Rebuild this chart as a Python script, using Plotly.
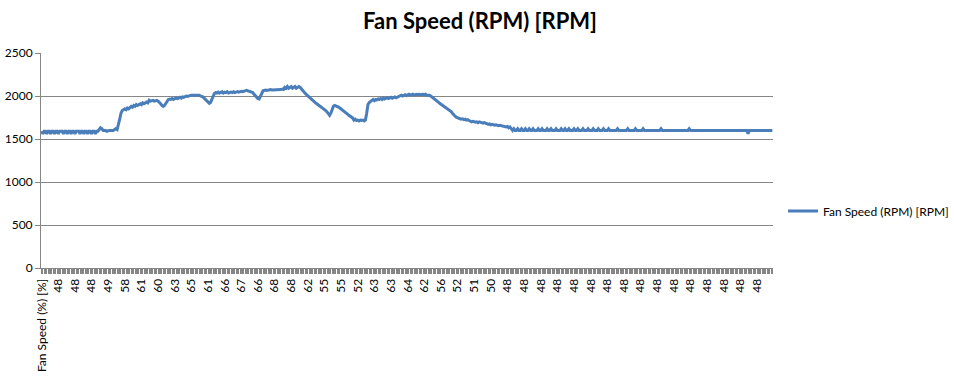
import plotly.graph_objects as go

# Fan speed (RPM) readings, split into segments
rpm_seg_a = [1590,1560,1590,1590,1560,1590,1590,1560,1590,1590,
             1560,1590,1590,1560,1590,1590,1590,1560,1590,1590,
             1560,1590,1590,1560,1590,1590,1560,1590,1590,1590,
             1560,1590,1590,1560,1590,1590,1560,1590,1590,1560,
             1590,1590,1560,1590,1590]
rpm_seg_b = [1610,1630,1620,
             1600,1600,1600,1590,1600,1600,1600,1600,1600,
             1610,1620,1610,
             1660,1730,1800,1830,1840,
             1850,1840,1860,1850,1870]
rpm_seg_c = [1880,1870,1890,1880,1900,1890,1900,1910,1900,1920,1910,1920,1930,1920,
             1950,1940,1950,1950,1940,1950,1950,1940,
             1930,1910,1890,1880,1890,1910,
             1940,1960,1965,1960,1970,1960,
             1970,1975,1970,1980,1985,1975,1990,1985,1990,2000,1995,
             2000,2010,2010,2010,2010,2010,2005,2010,2010,2000,1995,1990,
             1975,1960,1945,1930,1915,1925,
             1960,2000,2030,2040]
rpm_seg_d = [2035,2045,2035,2040,2050,2035,2045,2040,2050,2035,2040,2045,2040,2050,2040,2045,2050,2045,2050,2055,2050,2060,
             2060,2065,2060,2060,2055,
             2050,2040,2020,2000,1985,1970,1965,
             2000,2040,2060,
             2065,2070,2065,2070,2070,2075,2070,2070,2075,2070,2075,2075,2070,2075,2080,2075,
             2100,2090,2110,2090,2100,2110,2090,2100,2110,2090,2100,2110,2100,
             2080,2060]
rpm_seg_e = [2040,2030,2015,2000,1985,1970,1955,1945,1935,1920,1910,1900,1890,1880,1865,1850,1840,1830,1815,1795,1775,
             1800,1840,1880,1890,
             1885,1875,1870,1860,
             1850,1840,1820,1810,1800,1790,1775,1765,1755,1745,
             1720,1730,1715,1720,1710,1720,1715,1720,1710,1720,
             1800,1900,1925,1940,
             1950,1960,1945,1960,1955,1965,1960,1970,1960,1975,1965,1970,1980,1970,1975,1985,1975,1980,1990,1980,1990,
             2000,2005,2010,2000,2010,2015,2005,2010,2020,2010,2015,2020,2010,2015,2020,2015,2020,2015,2020,2020,2015,2020,2010]
rpm_seg_f = [2010,2010,2000,1990,1980,1965,1955,1940,1930,1915,1905,1895,1885,1870,1860,1850,1840,1830,1820,1800,1780,1765,1755,1745,1740,1735,1730,1735,1725,1730,1720,1725,1715,
             1710,1700,1705,1700,1695,1700,1690,1700,1695,1690,1685,1690,1680,
             1675,1670,1675,1665,1670,1665,1660,1665,1660,1655,1660,1655,1650,
             1650,1645,1640,1645,1630,1640,1620]
rpm_seg_g = [1600,1620,1600,1600,1620,1600,1600,1620,1600,1600,
             1620,1600,1600,1620,1600,1600,1620,1600,1600,1600,
             1620,1600,1600,1620,1600,1600,1600,1620,1600,1600,
             1620,1600,1600,1600,1620,1600,1600,1600,1620,1600,
             1600,1620,1600,1600,1620,1600,1600,1600,1620,1600,
             1600,1620,1600,1600,1600,1620,1600,1600,1600,1620,
             1600,1600,1600,1620,1600,1600,1600,1620,1600,1600,
             1600,1620,1600,1600,1600,1620,1600,1600,1600,1600,
             1600,1600,1620,1600,1600,1600,1600,1600,1600,1600,
             1620,1600,1600,1600,1600,1600,1620,1600,1600,1600,
             1600,1600,1620,1600,1600,1600,1600,1600,1600,1600,
             1600,1600,1600,1600,1600,1600,1620,1600,1600,1600,
             1600,1600,1600,1600,1600,1600,1600,1600,1600,1600,
             1600,1600,1600,1600,1600,1600,1600,1600,1620,1600,
             1600,1600,1600,1600,1600,1600,1600,1600,1600,1600,
             1600,1600,1600,1600,1600,1600,1600,1600,1600,1600,
             1600,1600,1600,1600,1600,1600,1600,1600,1600,1600,
             1600,1600,1600,1600,1600,1600,1600,1600,1600,1600,
             1600,1600,1600,1600,1560,1600,1600,1600,1600,1600,
             1600,1600,1600,1600,1600,1600,1600,1600,1600,1600,
             1600,1600,1600,1600]

rpm = rpm_seg_a + rpm_seg_b + rpm_seg_c + rpm_seg_d + rpm_seg_e + rpm_seg_f + rpm_seg_g

# Category labels (fan speed %) shown every 13th category
label_step = 13
tick_labels = ["Fan Speed (%) [%]",
               "48", "48", "48", "49", "58", "61", "60", "63", "65", "61", "66", "67", "66", "68",
               "68", "62", "55", "55", "52", "63", "63", "64", "62", "56", "52", "51", "50", "48",
               "48", "48", "48", "48", "48", "48", "48", "48", "48", "48", "48", "48", "48", "48", "48"]

series_name = "Fan Speed (RPM) [RPM]"
chart_title = "Fan Speed (RPM) [RPM]"
y_ticks = [0, 500, 1000, 1500, 2000, 2500]

x_idx = list(range(len(rpm)))
tick_pos = list(range(0, len(rpm), label_step))[:len(tick_labels)]

FONT = "Lato, 'Open Sans', sans-serif"
GRAY = "#868686"

fig = go.Figure()
fig.add_trace(go.Scatter(x=x_idx, y=rpm, mode="lines", name=series_name,
                         line=dict(color="#4A7EBB", width=3)))

fig.update_layout(
    width=954, height=377, autosize=False,
    margin=dict(l=41, r=181, t=53, b=109, autoexpand=False),
    paper_bgcolor="white", plot_bgcolor="white",
    font=dict(family=FONT, size=12, color="black"),
    title=dict(text="<b>" + chart_title + "</b>", x=480 / 954, xanchor="center",
               xref="container", y=1 - 21 / 377, yref="container", yanchor="middle",
               font=dict(family=FONT, size=22, color="black")),
    showlegend=True,
    legend=dict(x=783 / 954, y=1 - 211 / 377, xref="container", yref="container",
                xanchor="left", yanchor="middle",
                font=dict(family=FONT, size=12, color="black"),
                bgcolor="rgba(0,0,0,0)"),
)
fig.update_xaxes(
    range=[-0.5, len(rpm) - 0.5],
    tickmode="array", tickvals=tick_pos, ticktext=tick_labels,
    tickangle=-90, ticks="outside", ticklen=5, tickcolor=GRAY, tickwidth=1,
    showline=True, linecolor=GRAY, linewidth=1,
    showgrid=False, zeroline=False, automargin=False,
    tickfont=dict(family=FONT, size=12, color="black"),
    minor=dict(dtick=1, tick0=0, ticks="outside", ticklen=5, tickcolor=GRAY,
               tickwidth=1, showgrid=False),
)
fig.update_yaxes(
    range=[0, 2500], tickmode="array", tickvals=y_ticks,
    ticks="outside", ticklen=5, tickcolor=GRAY,
    showline=True, linecolor=GRAY, linewidth=1,
    showgrid=True, gridcolor=GRAY, gridwidth=1, zeroline=False,
    automargin=False,
    tickfont=dict(family=FONT, size=12, color="black"),
)

fig.write_html(
    "out.html",
    config={"responsive": False, "displayModeBar": False},
    default_width="954px", default_height="377px",
    post_script="document.body.style.margin='0';document.body.style.padding='0';",
)
